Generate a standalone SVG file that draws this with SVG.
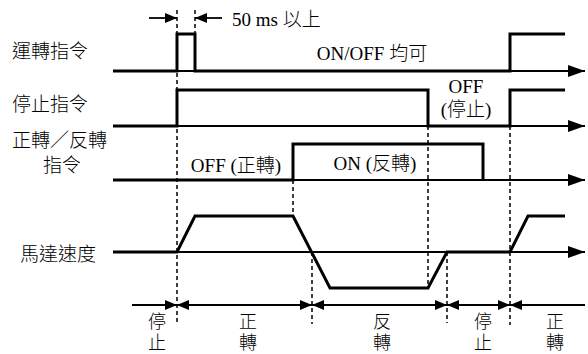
<svg xmlns="http://www.w3.org/2000/svg" width="588" height="354" viewBox="0 0 588 354">
<style>
.sig{fill:none;stroke:#000;stroke-width:3;stroke-linejoin:miter}
.ax{fill:none;stroke:#000;stroke-width:1.8}
.dash{fill:none;stroke:#000;stroke-width:1.5;stroke-dasharray:4 3}
.lbl{font-family:"Liberation Serif","Noto Sans CJK TC",serif;font-size:19px;font-weight:300;fill:#000}
.ph{font-family:"Liberation Serif","Noto Sans CJK TC",serif;font-size:18px;font-weight:300;fill:#000;text-anchor:middle}
.ser{font-family:"Liberation Serif","Noto Sans CJK TC",serif;font-size:19px;font-weight:300;fill:#000}
.mid{text-anchor:middle}
</style>
<defs>
<marker id="axarrow" viewBox="0 0 17 12" refX="17" refY="6" markerWidth="17" markerHeight="12" markerUnits="userSpaceOnUse" orient="auto">
<path d="M0,0 L17,6 L0,12 Z" fill="#000"/>
</marker>
<marker id="tarrow" viewBox="0 0 12 10" refX="12" refY="5" markerWidth="12" markerHeight="10" markerUnits="userSpaceOnUse" orient="auto">
<path d="M0,0 L12,5 L0,10 Z" fill="#000"/>
</marker>
</defs>

<g id="labels">
<text class="lbl" x="12" y="58">運轉指令</text>
<text class="lbl" x="12" y="111">停止指令</text>
<text class="lbl" x="12" y="147">正轉／反轉</text>
<text class="lbl mid" x="62" y="172">指令</text>
<text class="lbl" x="20" y="261">馬達速度</text>
</g>

<g id="connectors">
<line class="ax" x1="113" y1="71" x2="585" y2="71" marker-end="url(#axarrow)"/>
<line class="ax" x1="113" y1="126" x2="585" y2="126" marker-end="url(#axarrow)"/>
<line class="ax" x1="113" y1="180" x2="585" y2="180" marker-end="url(#axarrow)"/>
<line class="ax" x1="113" y1="252" x2="585" y2="252" marker-end="url(#axarrow)"/>
<line class="ax" x1="132" y1="305" x2="585" y2="305"/>

<line class="dash" x1="177" y1="10" x2="177" y2="325"/>
<line class="dash" x1="195" y1="10" x2="195" y2="34"/>
<line class="dash" x1="293" y1="180" x2="293" y2="216"/>
<line class="dash" x1="312" y1="252" x2="312" y2="324"/>
<line class="dash" x1="428" y1="126" x2="428" y2="288"/>
<line class="dash" x1="447" y1="252" x2="447" y2="323"/>
<line class="dash" x1="510" y1="126" x2="510" y2="325"/>

<line class="ax" x1="149" y1="18" x2="177" y2="18" marker-end="url(#tarrow)"/>
<line class="ax" x1="222" y1="18" x2="195" y2="18" marker-end="url(#tarrow)"/>

<line class="ax" x1="160" y1="305" x2="177" y2="305" marker-end="url(#tarrow)"/>
<line class="ax" x1="194" y1="305" x2="177" y2="305" marker-end="url(#tarrow)"/>
<line class="ax" x1="295" y1="305" x2="312" y2="305" marker-end="url(#tarrow)"/>
<line class="ax" x1="329" y1="305" x2="312" y2="305" marker-end="url(#tarrow)"/>
<line class="ax" x1="430" y1="305" x2="447" y2="305" marker-end="url(#tarrow)"/>
<line class="ax" x1="464" y1="305" x2="447" y2="305" marker-end="url(#tarrow)"/>
<line class="ax" x1="493" y1="305" x2="510" y2="305" marker-end="url(#tarrow)"/>
<line class="ax" x1="527" y1="305" x2="510" y2="305" marker-end="url(#tarrow)"/>
</g>

<g id="run-signal">
<polyline class="sig" points="113,71 177,71 177,34 195,34 195,71 510,71 510,34 565,34"/>
</g>
<g id="stop-signal">
<polyline class="sig" points="113,126 177,126 177,90 428,90 428,126 510,126 510,90 565,90"/>
</g>
<g id="dir-signal">
<polyline class="sig" points="113,180 293,180 293,144 483,144 483,180"/>
</g>
<g id="speed-signal">
<polyline class="sig" points="113,252 177,252 195,216 293,216 330,288 428,288 447,252 510,252 528,216 565,216"/>
</g>

<g id="annotations">
<text class="ser" x="232" y="26" font-size="18">50 ms 以上</text>
<text class="ser mid" x="372" y="60">ON/OFF 均可</text>
<text class="ser mid" x="466" y="93">OFF</text>
<text class="ser mid" x="466" y="116">(停止)</text>
<text class="ser mid" x="236" y="172">OFF (正轉)</text>
<text class="ser mid" x="375" y="170">ON (反轉)</text>
</g>

<g id="phases">
<text class="ph" x="157" y="328">停</text>
<text class="ph" x="157" y="349">止</text>
<text class="ph" x="248" y="328">正</text>
<text class="ph" x="248" y="349">轉</text>
<text class="ph" x="382" y="328">反</text>
<text class="ph" x="382" y="349">轉</text>
<text class="ph" x="483" y="328">停</text>
<text class="ph" x="483" y="349">止</text>
<text class="ph" x="555" y="328">正</text>
<text class="ph" x="555" y="349">轉</text>
</g>
</svg>
